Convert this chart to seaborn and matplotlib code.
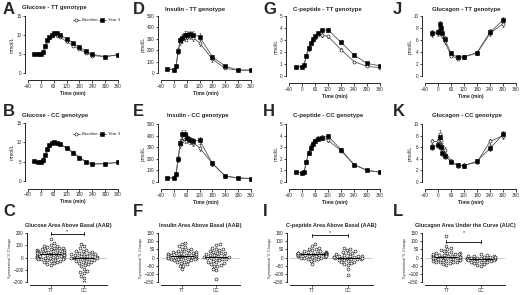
#!/usr/bin/env python3
"""OGTT curves (TT vs CC genotype) plus symmetrical % change swarms."""
import numpy as np
import pandas as pd
import matplotlib
matplotlib.use('Agg')
import matplotlib.pyplot as plt
import seaborn as sns

# ---- time courses --------------------------------------------------------
T_GLU = [-30, -15, 0, 10, 20, 30, 40, 50, 60, 75, 90, 120, 150, 180, 210, 240, 300, 360]
glu_tt_base = [5.1, 4.9, 4.9, 5.5, 6.9, 8.4, 9.2, 9.8, 10.2, 9.9, 9.4, 8.3, 7.2, 6.2, 5.3, 4.6, 4.3, 4.8]
glu_tt_y3 = [5.1, 5.0, 5.0, 5.6, 7.1, 8.6, 9.4, 10.1, 10.6, 10.5, 10.0, 9.0, 7.9, 6.8, 5.7, 4.9, 4.3, 4.8]
glu_cc_base = [5.2, 5.0, 5.0, 5.3, 6.6, 8.0, 9.2, 9.8, 10.0, 9.9, 9.5, 8.6, 7.4, 6.1, 5.0, 4.4, 4.5, 4.8]
glu_cc_y3 = [5.1, 4.9, 4.9, 5.4, 6.7, 8.2, 9.3, 9.9, 10.0, 9.9, 9.5, 8.5, 7.3, 6.0, 5.0, 4.4, 4.5, 4.8]
glu_sem = [0.1, 0.1, 0.1, 0.15, 0.2, 0.25, 0.3, 0.3, 0.3, 0.3, 0.3, 0.3, 0.3, 0.25, 0.2, 0.2, 0.15, 0.15]

T_INS = [-30, 0, 10, 20, 30, 40, 50, 60, 75, 90, 120, 180, 240, 300, 360]
ins_tt_base = [35, 30, 60, 190, 275, 300, 315, 320, 325, 310, 265, 120, 40, 25, 25]
ins_tt_y3 = [35, 30, 60, 190, 290, 310, 330, 335, 340, 335, 320, 140, 60, 25, 25]
ins_cc_base = [35, 35, 60, 200, 320, 350, 375, 370, 360, 340, 295, 160, 50, 35, 30]
ins_cc_y3 = [35, 35, 65, 195, 340, 410, 410, 380, 360, 350, 360, 160, 50, 35, 30]
ins_sem = [5, 5, 10, 25, 30, 35, 35, 35, 30, 30, 30, 20, 8, 5, 5]

T_CP = [-30, 0, 10, 20, 30, 40, 50, 60, 75, 90, 120, 180, 240, 300, 360]
cp_tt_base = [0.78, 0.78, 0.95, 1.7, 2.25, 2.7, 3.0, 3.2, 3.45, 3.4, 3.3, 2.2, 1.2, 0.8, 0.7]
cp_tt_y3 = [0.78, 0.78, 0.95, 1.7, 2.3, 2.75, 3.05, 3.3, 3.55, 3.8, 3.85, 2.8, 1.75, 1.05, 0.85]
cp_cc_base = [0.85, 0.8, 0.9, 1.7, 2.5, 3.1, 3.4, 3.6, 3.8, 3.9, 3.6, 2.7, 1.5, 1.0, 0.85]
cp_cc_y3 = [0.85, 0.8, 0.9, 1.75, 2.5, 2.9, 3.3, 3.5, 3.7, 3.8, 3.95, 2.8, 1.5, 1.0, 0.85]
cp_sem = [0.05, 0.05, 0.08, 0.12, 0.15, 0.15, 0.15, 0.15, 0.15, 0.15, 0.15, 0.12, 0.08, 0.05, 0.05]

T_GCG = [-30, 0, 10, 15, 20, 30, 60, 90, 120, 180, 240, 300]
gcg_tt_base = [7.0, 7.1, 8.2, 7.8, 6.8, 5.8, 3.4, 2.9, 3.2, 3.8, 7.1, 8.7]
gcg_tt_y3 = [7.1, 7.4, 8.6, 8.0, 7.2, 6.2, 3.8, 3.1, 3.2, 3.9, 7.3, 9.3]
gcg_cc_base = [7.0, 7.0, 8.3, 7.2, 6.2, 5.5, 3.6, 2.8, 2.9, 3.4, 7.0, 8.0]
gcg_cc_y3 = [6.0, 6.4, 7.8, 6.0, 5.0, 4.5, 3.5, 2.9, 2.8, 3.6, 5.8, 8.2]
gcg_sem = [0.5, 0.5, 0.6, 0.5, 0.5, 0.5, 0.3, 0.3, 0.3, 0.3, 0.5, 0.6]

# ---- symmetrical % change per participant --------------------------------
GROUPS = ['TT', 'CC']
glu_aab_tt = [150, 120, 105, 95, 90, 85, 80, 78, 75, 70, 68, 65, 62, 60, 58, 55, 52, 50, 48, 45,
              42, 40, 38, 35, 33, 30, 28, 25, 22, 20, 18, 15, 12, 10, 8, 5, 3, 0, -2, -5,
              -8, -10, -12, -15, -18, -20, -25, -30, -35, -40, -45, -50, -60]
glu_aab_cc = [110, 90, 75, 60, 55, 50, 45, 40, 35, 30, 28, 25, 20, 15, 12, 10, 5, 2, 0, -2,
              -5, -8, -10, -15, -20, -25, -30, -35, -40, -45, -50, -60, -70, -90, -110, -120,
              -125, -150, -170, -200]
ins_aab_tt = [90, 80, 70, 62, 55, 50, 45, 42, 40, 35, 32, 30, 28, 25, 22, 20, 18, 15, 12, 10,
              8, 6, 5, 3, 0, -2, -4, -5, -8, -10, -12, -15, -18, -20, -25, -30, -35, -40, -50,
              -55, -70, 10, 15, 20, 5, 0, -8, 25]
ins_aab_cc = [80, 75, 60, 55, 50, 45, 40, 35, 30, 28, 25, 20, 18, 15, 10, 8, 5, 2, 0, -3, -5,
              -8, -10, -15, -20, -25, -30, -35, -40, -45, -50, -55, -70, -75, -130]
cp_aab_tt = [80, 70, 60, 55, 50, 45, 40, 38, 35, 32, 30, 28, 26, 25, 24, 22, 21, 20, 20, 19,
             18, 17, 16, 15, 14, 12, 10, 8, 5, 3, 0, -3, -5, -8, -10, -15, -20, -40, 22, 20,
             18, 25, 28, 30, 12]
cp_aab_cc = [60, 50, 45, 40, 35, 30, 25, 20, 15, 12, 10, 8, 5, 3, 0, -2, -5, -8, -10, -12, -15,
             -18, -20, -25, -30, -35, -40, -45, -70, -110, 0, 5, 10]
gcg_auc_tt = [130, 70, 60, 50, 45, 40, 35, 30, 28, 25, 22, 20, 18, 15, 12, 10, 8, 5, 3, 0, -2,
              -5, -8, -10, -12, -15, -18, -20, -22, -25, -28, -30, -35, -40, -45, 0, 5, 10,
              -5, 2, 15, -15, -30, 20]
gcg_auc_cc = [20, 15, 12, 10, 8, 5, 3, 0, -2, -5, -8, -10, -10, -12, -15, -18, -20, -22, -25,
              -28, -30, -35, -40, -45, -50, -10, -5, 0, 5, -15]

W, H = 520, 295
sns.set_style('ticks')
plt.rcParams['font.family'] = ['Liberation Sans', 'DejaVu Sans']
plt.rcParams.update({
    'axes.linewidth': 0.7, 'xtick.major.width': 0.6, 'ytick.major.width': 0.6,
    'xtick.major.size': 1.8, 'ytick.major.size': 1.8, 'xtick.labelsize': 3.3,
    'ytick.labelsize': 3.3, 'xtick.major.pad': 0.8, 'ytick.major.pad': 0.8,
})

fig = plt.figure(figsize=(W / 100, H / 100), dpi=100)


def box(x0, x1, ytop, ybot):
    return [x0 / W, 1 - ybot / H, (x1 - x0) / W, (ybot - ytop) / H]


def legend_entry(x, y, lab, mk, fc):
    fig.add_artist(plt.Line2D([(x - 3.5) / W, x / W, (x + 3.5) / W], [1 - y / H] * 3,
                              color='#555555', lw=0.6, marker=mk, markersize=2.2,
                              markevery=[1], markerfacecolor=fc,
                              markeredgecolor='black', markeredgewidth=0.4))
    fig.text((x + 5.5) / W, 1 - y / H, lab, fontsize=3.2, va='center', ha='left')


def curve_panel(rect, t, base, y3, sem, ylim, yticks, ylabel, title, title_x, title_y,
                xoff, legend=None):
    ax = fig.add_axes(rect)
    for vals, mk, fc in [(base, 'o', 'white'), (y3, 's', 'black')]:
        ax.errorbar(t, vals, yerr=sem, fmt='none', ecolor='#333333', elinewidth=0.4,
                    capsize=0.8, capthick=0.4, zorder=2)
        sns.lineplot(x=t, y=vals, ax=ax, color='#555555', lw=0.6, marker=mk,
                     markersize=2.2, markerfacecolor=fc, markeredgecolor='black',
                     markeredgewidth=0.4, zorder=3)
    ax.set_xlim(-60, 360)
    ax.set_xticks([-60, 0, 60, 120, 180, 240, 300, 360])
    ax.set_ylim(*ylim)
    ax.set_yticks(yticks)
    ax.set_ylabel(ylabel, fontsize=3.6, labelpad=1)
    ax.set_xlabel('Time (min)', fontsize=3.6, labelpad=1.5, fontweight='bold')
    ax.spines['top'].set_visible(False)
    ax.spines['right'].set_visible(False)
    ax.spines['bottom'].set_position(('outward', xoff))
    ax.spines['left'].set_position(('outward', 2))
    fig.text(title_x / W, 1 - title_y / H, title, fontsize=4.3, fontweight='bold',
             va='center', ha='left')
    if legend is not None:
        lx, ly = legend
        legend_entry(lx, ly, 'Baseline', 'o', 'white')
        legend_entry(lx + 26, ly, 'Year 3', 's', 'black')
    return ax


def swarm_panel(rect, tt, cc, ylim, yticks, title, sig=None):
    ax = fig.add_axes(rect)
    df = pd.DataFrame({'group': ['TT'] * len(tt) + ['CC'] * len(cc), 'val': tt + cc})
    ax.axhline(0, color='#bbbbbb', lw=0.5, zorder=0)
    sns.swarmplot(data=df, x='group', y='val', order=GROUPS, ax=ax, size=2.1,
                  color='white', edgecolor='black', linewidth=0.4, zorder=3)
    for i, g in enumerate(GROUPS):
        med = np.median(df.loc[df.group == g, 'val'])
        ax.plot([i - 0.32, i + 0.32], [med, med], color='black', lw=0.8, zorder=4)
    ax.set_xlim(-0.62, 1.7)
    ax.set_ylim(*ylim)
    ax.set_yticks(yticks)
    ax.set_xlabel('')
    ax.set_ylabel('Symmetrical % Change', fontsize=2.8, labelpad=1, color='#333333')
    ax.tick_params(axis='x', length=1.5, pad=0.5)
    ax.spines['top'].set_visible(False)
    ax.spines['right'].set_visible(False)
    ax.spines['bottom'].set_position(('outward', 2.5))
    ax.spines['left'].set_position(('outward', 2))
    ax.set_title(title, fontsize=4.0, fontweight='bold', pad=4)
    if sig is not None:
        yb, ys = sig
        span = ylim[1] - ylim[0]
        ax.plot([0, 1], [yb, yb], color='black', lw=0.6, clip_on=False)
        for xx in (0, 1):
            ax.plot([xx, xx], [yb - 0.025 * span, yb + 0.025 * span], color='black',
                    lw=0.6, clip_on=False)
        ax.text(0.5, ys, '*', fontsize=4.0, ha='center', va='center', clip_on=False)
    return ax


# rows 1 and 2 : time courses
cols = [(28, 118), (161, 251), (289, 380), (425, 516)]
curve_panel(box(*cols[0], 16, 73), T_GLU, glu_tt_base, glu_tt_y3, glu_sem, (0, 15), [0, 5, 10, 15],
            'mmol/L', 'Glucose - TT genotype', 22, 8, 5, legend=(76, 20))
curve_panel(box(*cols[0], 123, 181), T_GLU, glu_cc_base, glu_cc_y3, glu_sem, (0, 15), [0, 5, 10, 15],
            'mmol/L', 'Glucose - CC genotype', 22, 115, 5.5, legend=(76, 134))
curve_panel(box(*cols[1], 16, 73), T_INS, ins_tt_base, ins_tt_y3, ins_sem, (0, 500),
            [0, 100, 200, 300, 400, 500], 'pmol/L', 'Insulin - TT genotype', 165, 9, 5)
curve_panel(box(*cols[1], 124, 182), T_INS, ins_cc_base, ins_cc_y3, ins_sem, (0, 500),
            [0, 100, 200, 300, 400, 500], 'pmol/L', 'Insulin - CC genotype', 167, 115, 5)
curve_panel(box(*cols[2], 16, 76), T_CP, cp_tt_base, cp_tt_y3, cp_sem, (0, 5), [0, 1, 2, 3, 4, 5],
            'nmol/L', 'C-peptide - TT genotype', 293, 10, 5)
curve_panel(box(*cols[2], 124, 182), T_CP, cp_cc_base, cp_cc_y3, cp_sem, (0, 5), [0, 1, 2, 3, 4, 5],
            'nmol/L', 'C-peptide - CC genotype', 293, 115, 5)
curve_panel(box(*cols[3], 16, 76), T_GCG, gcg_tt_base, gcg_tt_y3, gcg_sem, (0, 10),
            [0, 2, 4, 6, 8, 10], 'pmol/L', 'Glucagon - TT genotype', 432, 10, 5)
curve_panel(box(*cols[3], 124, 182), T_GCG, gcg_cc_base, gcg_cc_y3, gcg_sem, (0, 10),
            [0, 2, 4, 6, 8, 10], 'pmol/L', 'Glucagon - CC genotype', 432, 115, 5)

# row 3 : swarms
swarm_panel(box(30, 107, 233, 282), glu_aab_tt, glu_aab_cc, (-200, 200),
            [-200, -100, 0, 100, 200], 'Glucose Area Above Basal (AAB)', sig=(195, 212))
swarm_panel(box(161, 240, 233, 282), ins_aab_tt, ins_aab_cc, (-150, 150),
            [-150, -100, -50, 0, 50, 100, 150], 'Insulin Area Above Basal (AAB)')
swarm_panel(box(290, 373, 233, 282), cp_aab_tt, cp_aab_cc, (-150, 150),
            [-150, -100, -50, 0, 50, 100, 150], 'C-peptide Area Above Basal (AAB)', sig=(135, 153))
swarm_panel(box(425, 505, 233, 282), gcg_auc_tt, gcg_auc_cc, (-150, 150),
            [-150, -100, -50, 0, 50, 100, 150], 'Glucagon Area Under the Curve (AUC)', sig=(97, 153))

# panel letters
letter_cols = [('A', 'B', 'C'), ('D', 'E', 'F'), ('G', 'H', 'I'), ('J', 'K', 'L')]
for labs, x in zip(letter_cols, [3, 133, 263, 393]):
    for lab, y in zip(labs, [9, 111, 211]):
        fig.text(x / W, 1 - y / H, lab, fontsize=12, fontweight='bold', va='center', ha='left')

fig.savefig('out.png', dpi=100)
